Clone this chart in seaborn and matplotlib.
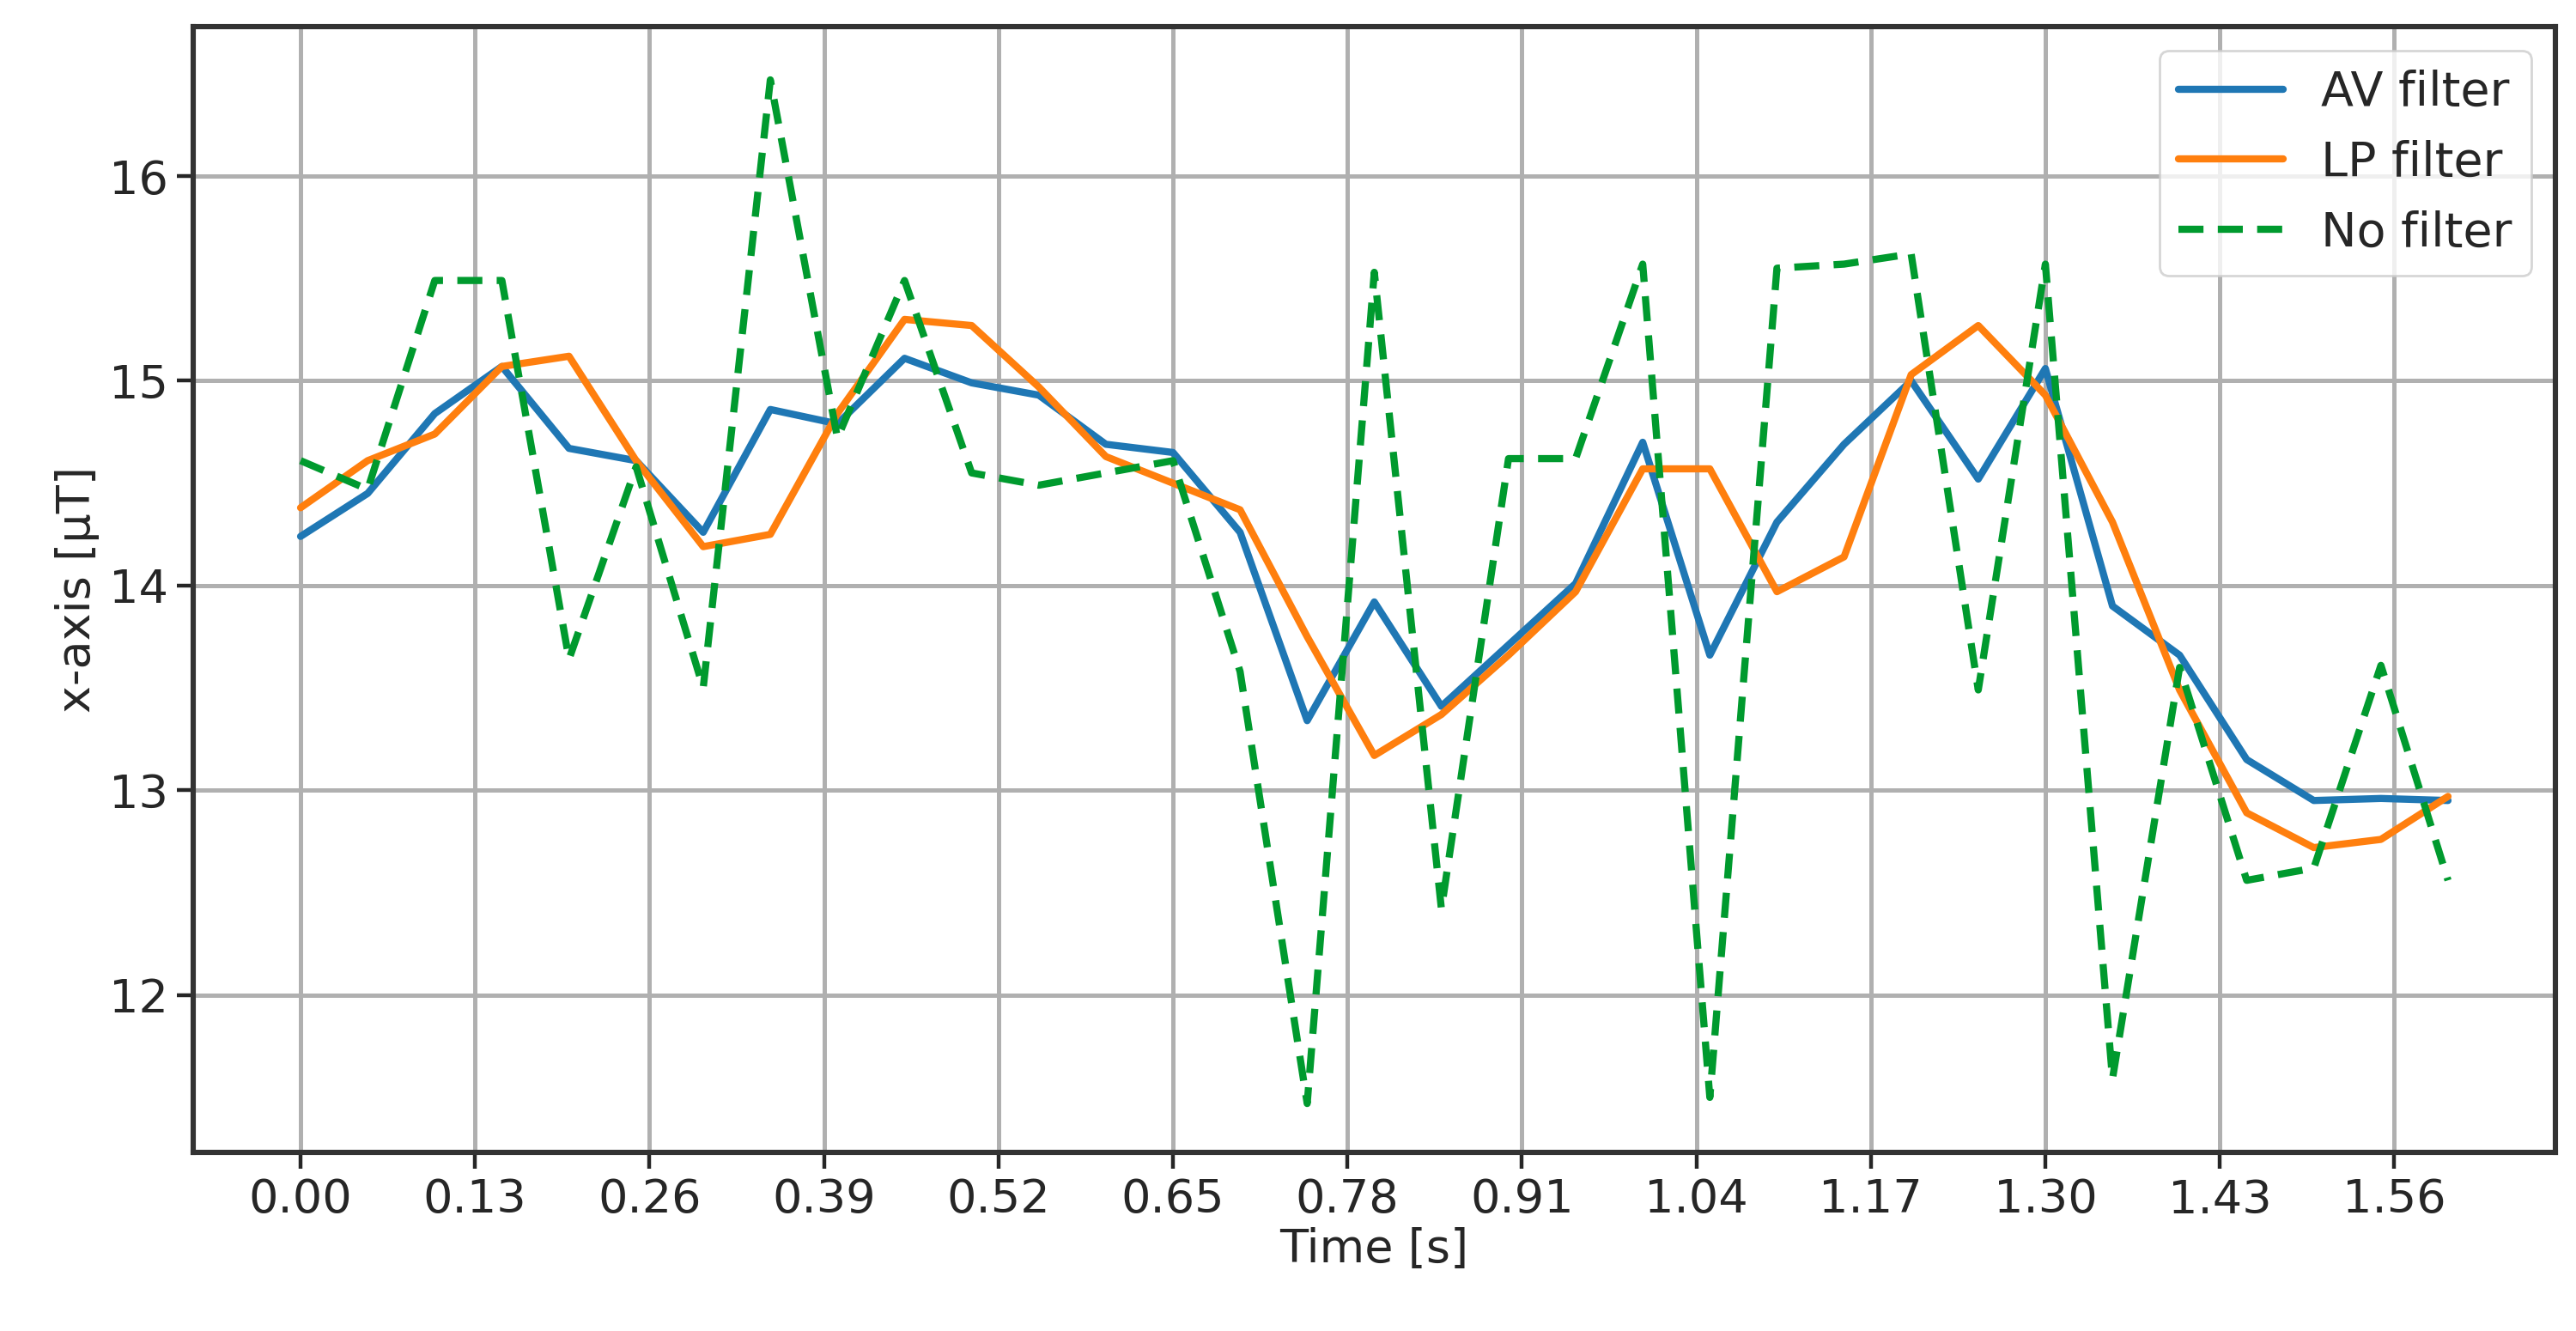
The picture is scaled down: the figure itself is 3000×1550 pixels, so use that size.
import numpy as np
import pandas as pd
import matplotlib
matplotlib.use("Agg")
import matplotlib.pyplot as plt
import seaborn as sns

# time stamps [s]
time = [0.00, 0.05, 0.10, 0.15, 0.20, 0.25, 0.30, 0.35, 0.40, 0.45, 0.50,
        0.55, 0.60, 0.65, 0.70, 0.75, 0.80, 0.85, 0.90, 0.95, 1.00, 1.05,
        1.10, 1.15, 1.20, 1.25, 1.30, 1.35, 1.40, 1.45, 1.50, 1.55, 1.60]

av_filter = [14.24, 14.45, 14.84, 15.07, 14.67, 14.61, 14.26, 14.86, 14.79, 15.11, 14.99,
             14.93, 14.69, 14.65, 14.26, 13.34, 13.92, 13.41, 13.71, 14.01, 14.70, 13.66,
             14.31, 14.69, 15.00, 14.52, 15.06, 13.90, 13.66, 13.15, 12.95, 12.96, 12.95]
lp_filter = [14.38, 14.61, 14.74, 15.07, 15.12, 14.61, 14.19, 14.25, 14.84, 15.30, 15.27,
             14.97, 14.63, 14.50, 14.37, 13.75, 13.17, 13.37, 13.66, 13.97, 14.57, 14.57,
             13.97, 14.14, 15.03, 15.27, 14.93, 14.31, 13.49, 12.89, 12.72, 12.76, 12.97]
no_filter = [14.61, 14.47, 15.49, 15.49, 13.64, 14.58, 13.50, 16.47, 14.72, 15.49, 14.55,
             14.49, 14.55, 14.61, 13.58, 11.47, 15.53, 12.42, 14.62, 14.62, 15.57, 11.50,
             15.55, 15.57, 15.62, 13.49, 15.57, 11.59, 13.60, 12.56, 12.62, 13.61, 12.56]

xticks = [0.00, 0.13, 0.26, 0.39, 0.52, 0.65, 0.78, 0.91, 1.04, 1.17, 1.30, 1.43, 1.56]

df = pd.DataFrame({"t": time, "AV filter": av_filter,
                   "LP filter": lp_filter, "No filter": no_filter})
long = df.melt(id_vars="t", var_name="series", value_name="val")

sns.set_style("white")
plt.rcParams["font.family"] = ["DejaVu Sans"]

fig = plt.figure(figsize=(15, 7.75), dpi=200)
ax = fig.add_axes([0.075, 0.134, 0.917, 0.846])

palette = {"AV filter": "#1f77b4", "LP filter": "#ff7f0e", "No filter": "#009a2e"}
dashes = {"AV filter": "", "LP filter": "", "No filter": (3.5, 2)}
sns.lineplot(data=long, x="t", y="val", hue="series", style="series",
             palette=palette, dashes=dashes, linewidth=3, ax=ax)

ax.set_xticks(xticks)
ax.set_xticklabels([f"{v:.2f}" for v in xticks])
ax.set_yticks([12, 13, 14, 15, 16])
ax.set_ylim(11.23, 16.73)
ax.set_xlim(-0.08, 1.68)
ax.grid(True, color="#b0b0b0", linewidth=1.8)
ax.tick_params(labelsize=19.5, length=7, width=1.6, direction="out", bottom=True, left=True)
for s in ax.spines.values():
    s.set_color("#333333")
    s.set_linewidth(2.2)
ax.set_xlabel("Time [s]", fontsize=19.5, labelpad=2)
ax.set_ylabel("x-axis [\u00b5T]", fontsize=19.5)
leg = ax.legend(loc="upper right", fontsize=20, frameon=True, handlelength=2.2)
leg.get_frame().set_edgecolor("#cccccc")
for line in leg.get_lines():
    line.set_linewidth(3)

fig.savefig("out.png", dpi=200)
